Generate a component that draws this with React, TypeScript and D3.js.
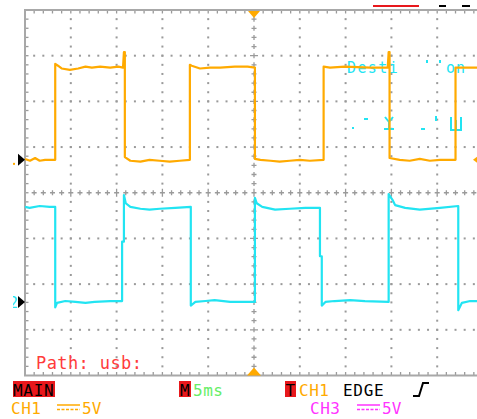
import React from "react";
import * as d3 from "d3";

// ---- data (time in ms, voltage in V) ----
const ch1Trace: [number, number][] = [
  [-25, 0.1], [-24.45, -0.1], [-23.9, 0.2], [-23.4, -0.1], [-22.8, 0], [-21.7, 0],
  [-21.7, 10.5], [-21.4, 10.3], [-21.0, 10.0], [-20.1, 9.85], [-19.2, 10.0], [-18.4, 10.2],
  [-17.7, 10.1], [-16.8, 10.2], [-15.7, 10.1], [-14.8, 10.2], [-14.3, 10.1], [-14.2, 11.8],
  [-14.1, 11.8], [-14.1, 0.3], [-13.5, -0.1], [-12.4, -0.2], [-11.4, 0], [-10.3, -0.1],
  [-9.2, -0.2], [-8.1, -0.1], [-7.0, 0],
  [-7.0, 10.4], [-6.8, 10.3], [-5.9, 10.0], [-4.8, 10.1], [-3.7, 10.1], [-2.1, 10.2],
  [-0.7, 10.2], [0.1, 10.1],
  [0.1, 0.1], [0.7, 0], [1.8, -0.1], [2.8, -0.2], [3.9, -0.1], [5.0, 0], [6.1, -0.1], [7.6, 0],
  [7.6, 10.2], [8.3, 10.1], [9.9, 10.2], [12.7, 10.1], [14.6, 10.1], [14.7, 11.8],
  [14.8, 11.8], [14.8, 0.2], [15.9, 0], [17.0, -0.1], [18.1, 0.1], [19.2, -0.1], [20.3, 0], [22.0, 0],
  [22.0, 10.1], [24.3, 10.1], [25, 10.1],
];

const ch3Trace: [number, number][] = [
  [-25, 10.4], [-24.5, 10.3], [-23.4, 10.5], [-22.3, 10.4], [-21.7, 10.4],
  [-21.7, -0.6], [-21.5, -0.1], [-20.6, 0.1], [-19.5, 0], [-18.4, -0.1], [-17.4, 0], [-15.7, 0.1],
  [-14.4, 0.1], [-14.4, 6.6], [-14.2, 6.6], [-14.2, 11.7], [-14.0, 10.8], [-13.5, 10.4],
  [-12.4, 10.2], [-11.4, 10.1], [-10.3, 10.2], [-8.6, 10.3], [-6.9, 10.4],
  [-6.9, -0.4], [-6.4, 0], [-5.3, 0.1], [-4.3, 0.2], [-2.6, 0], [-1.0, 0], [0.1, 0],
  [0.1, 11.4], [0.3, 10.8], [0.9, 10.4], [2.3, 10.1], [3.9, 10.2], [5.6, 10.3], [7.2, 10.3],
  [7.2, 5.0], [7.4, 5.0], [7.4, -0.4], [7.8, 0], [8.8, 0.1], [10.5, 0.2], [12.1, 0.1], [14.7, 0],
  [14.7, 11.8], [15.1, 11.2], [15.4, 10.6], [16.5, 10.3], [18.1, 10.1], [20.3, 10.3], [22.3, 10.5],
  [22.3, -0.9], [22.7, -0.1], [23.6, 0.1], [24.3, 0.1], [25, 0],
];

const pathLabel = "Path: usb:";
const statusLabels = ["MAIN", "M", "5ms", "T", "CH1", "EDGE"];
const channelLabels = ["CH1", "5V", "CH3", "5V"];
const overlayText = ["Desti", "on"];

const TIME_PER_DIV = 5; // ms
const VOLT_PER_DIV = 5; // V
const CH1_OFFSET = 0.72; // divisions
const CH3_OFFSET = -2.39;

const W = 477, H = 419;
const GL = 25, GR = 483, GT = 10, GB = 375.5;

export default function App() {
  const xDiv = d3.scaleLinear().domain([0, 10]).range([GL, GR]);
  const yDiv = d3.scaleLinear().domain([-4, 4]).range([GB, GT]);
  const xT = d3.scaleLinear().domain([-5 * TIME_PER_DIV, 5 * TIME_PER_DIV]).range([GL, GR]);
  const y1 = (v: number) => yDiv(CH1_OFFSET + v / VOLT_PER_DIV);
  const y3 = (v: number) => yDiv(CH3_OFFSET + v / VOLT_PER_DIV);

  const line1 = d3.line<[number, number]>().x((d) => xT(d[0])).y((d) => y1(d[1]));
  const line3 = d3.line<[number, number]>().x((d) => xT(d[0])).y((d) => y3(d[1]));

  const gridCol = "#9a9a9a";
  const dots: JSX.Element[] = [];
  for (let i = 1; i <= 9; i++) {
    if (i === 5) continue;
    for (let k = 1; k < 40; k++) {
      if (k === 20) continue;
      dots.push(<rect key={`v${i}-${k}`} x={xDiv(i) - 1} y={yDiv(-4 + k / 5) - 1} width={2} height={2} fill={gridCol} />);
    }
  }
  for (let j = -3; j <= 3; j++) {
    if (j === 0) continue;
    for (let k = 1; k < 52; k++) {
      if (k === 25) continue;
      dots.push(<rect key={`h${j}-${k}`} x={xDiv(k / 5) - 1} y={yDiv(j) - 1} width={2} height={2} fill={gridCol} />);
    }
  }
  const crosses: JSX.Element[] = [];
  for (let k = 1; k < 52; k++) {
    const cx = xDiv(k / 5), cy = yDiv(0);
    const big = k % 5 === 0 ? 4 : 2.5;
    crosses.push(<path key={`ch${k}`} d={`M${cx - 2.5},${cy}H${cx + 2.5}M${cx},${cy - big}V${cy + big}`} stroke={gridCol} strokeWidth={1.3} />);
  }
  for (let k = 1; k < 40; k++) {
    if (k === 20) continue;
    const cx = xDiv(5), cy = yDiv(-4 + k / 5);
    const big = k % 5 === 0 ? 4 : 2.5;
    crosses.push(<path key={`cv${k}`} d={`M${cx - big},${cy}H${cx + big}M${cx},${cy - 2.5}V${cy + 2.5}`} stroke={gridCol} strokeWidth={1.3} />);
  }
  const ticks: JSX.Element[] = [];
  for (let k = 1; k < 52; k++) {
    const x = xDiv(k / 5);
    ticks.push(<line key={`tt${k}`} x1={x} x2={x} y1={GT} y2={GT + 3.5} stroke={gridCol} strokeWidth={1.3} />);
    ticks.push(<line key={`tb${k}`} x1={x} x2={x} y1={GB} y2={GB - 3.5} stroke={gridCol} strokeWidth={1.3} />);
  }
  for (let k = 1; k < 40; k++) {
    const y = yDiv(-4 + k / 5);
    ticks.push(<line key={`tl${k}`} x1={GL} x2={GL + 3.5} y1={y} y2={y} stroke={gridCol} strokeWidth={1.3} />);
  }

  const font = "'DejaVu Sans Mono', monospace";
  const orange = "#ffaa00";
  const cyan = "#22e4f2";
  const magenta = "#ff33ff";
  const red = "#e8181c";

  const cx0 = xDiv(5);

  return (
    <svg width={W} height={H} style={{ position: "absolute", left: 0, top: 0, background: "#fff" }}>
      <defs>
        <clipPath id="leftClip">
          <rect x={13} y={0} width={20} height={H} />
        </clipPath>
      </defs>
      <rect x={0} y={0} width={W} height={H} fill="#fff" />
      {dots}
      {crosses}
      {ticks}
      <path d={`M${GR},${GT}H${GL}V${GB}H${GR}`} fill="none" stroke="#a8a8a8" strokeWidth={2} />

      <g fill={cyan} fontFamily={font} fontSize={15}>
        <text x={347} y={73} letterSpacing={1.4}>{overlayText[0]}</text>
        <text x={446} y={73} letterSpacing={1}>{overlayText[1]}</text>
      </g>
      <g fill={cyan}>
        <rect x={426} y={60} width={2} height={3} />
        <rect x={439} y={60} width={2} height={3} />
        <rect x={364} y={118} width={4} height={2} />
        <rect x={352} y={127} width={2} height={2} />
        <rect x={421} y={128} width={4} height={2} />
        <rect x={435} y={116} width={2} height={5} />
        <path d="M385,117 L389,122 L393,117 M389,122 V128 M384,129 H394" fill="none" stroke={cyan} strokeWidth={2} />
        <path d="M451,117 V130 H461 V117 M456,120 V130" fill="none" stroke={cyan} strokeWidth={2} />
      </g>

      <path d={line1(ch1Trace) || ""} fill="none" stroke={orange} strokeWidth={2.2} strokeLinejoin="round" />
      <path d={line3(ch3Trace) || ""} fill="none" stroke={cyan} strokeWidth={2.2} strokeLinejoin="round" />

      <path d={`M${cx0 - 6},${GT + 1}H${cx0 + 6}L${cx0},${GT + 8}Z`} fill={orange} />
      <path d={`M${cx0 - 7},${GB}H${cx0 + 7}L${cx0},${GB - 8}Z`} fill={orange} />
      <path d={`M18,${y1(0) - 6}L25,${y1(0)}L18,${y1(0) + 6}Z`} fill="#000" />
      <rect x={13} y={y1(0) + 3} width={2} height={2} fill={orange} />
      <path d={`M18,${y3(0) - 6}L25,${y3(0)}L18,${y3(0) + 6}Z`} fill="#000" />
      <text x={9} y={y3(0) + 6} fill={cyan} fontFamily={font} fontSize={15} clipPath="url(#leftClip)">2</text>
      <path d={`M477,${y1(0) - 3}L473,${y1(0)}L477,${y1(0) + 3}Z`} fill={orange} />

      <line x1={373} x2={419} y1={6} y2={6} stroke={red} strokeWidth={2} />
      <line x1={439} x2={446} y1={6} y2={6} stroke="#000" strokeWidth={2} />
      <line x1={462} x2={470} y1={6} y2={6} stroke="#000" strokeWidth={2} />

      <text x={36} y={369} fill="#ff3b3b" fontFamily={font} fontSize={17} letterSpacing={0.4}>{pathLabel}</text>

      <rect x={13} y={381} width={42} height={16} fill={red} />
      <text x={13} y={396} fill="#000" fontFamily={font} fontSize={16} letterSpacing={0.7} clipPath="url(#leftClip)">{""}</text>
      <text x={13} y={396} fill="#000" fontFamily={font} fontSize={16} letterSpacing={0.7}>{statusLabels[0]}</text>
      <rect x={179} y={381} width={12} height={16} fill={red} />
      <text x={180} y={396} fill="#000" fontFamily={font} fontSize={16}>{statusLabels[1]}</text>
      <text x={193} y={396} fill="#66ee66" fontFamily={font} fontSize={16} letterSpacing={0.5}>{statusLabels[2]}</text>
      <rect x={285} y={381} width={11} height={16} fill={red} />
      <text x={285.5} y={396} fill="#000" fontFamily={font} fontSize={16}>{statusLabels[3]}</text>
      <text x={299} y={396} fill={orange} fontFamily={font} fontSize={16} letterSpacing={0.5}>{statusLabels[4]}</text>
      <text x={343} y={396} fill="#000" fontFamily={font} fontSize={16} letterSpacing={0.7}>{statusLabels[5]}</text>
      <path d="M413,396 H419 L423,383 H429" fill="none" stroke="#000" strokeWidth={2} />

      <text x={11} y={414} fill={orange} fontFamily={font} fontSize={16} letterSpacing={0.5}>{channelLabels[0]}</text>
      <line x1={57} x2={80} y1={405} y2={405} stroke={orange} strokeWidth={1.5} />
      <line x1={57} x2={80} y1={409.5} y2={409.5} stroke={orange} strokeWidth={1.5} strokeDasharray="3,1.5" />
      <text x={82} y={414} fill={orange} fontFamily={font} fontSize={16}>{channelLabels[1]}</text>
      <text x={310} y={414} fill={magenta} fontFamily={font} fontSize={16} letterSpacing={0.5}>{channelLabels[2]}</text>
      <line x1={357} x2={380} y1={405} y2={405} stroke={magenta} strokeWidth={1.5} />
      <line x1={357} x2={380} y1={409.5} y2={409.5} stroke={magenta} strokeWidth={1.5} strokeDasharray="3,1.5" />
      <text x={382} y={414} fill={magenta} fontFamily={font} fontSize={16}>{channelLabels[3]}</text>
    </svg>
  );
}
